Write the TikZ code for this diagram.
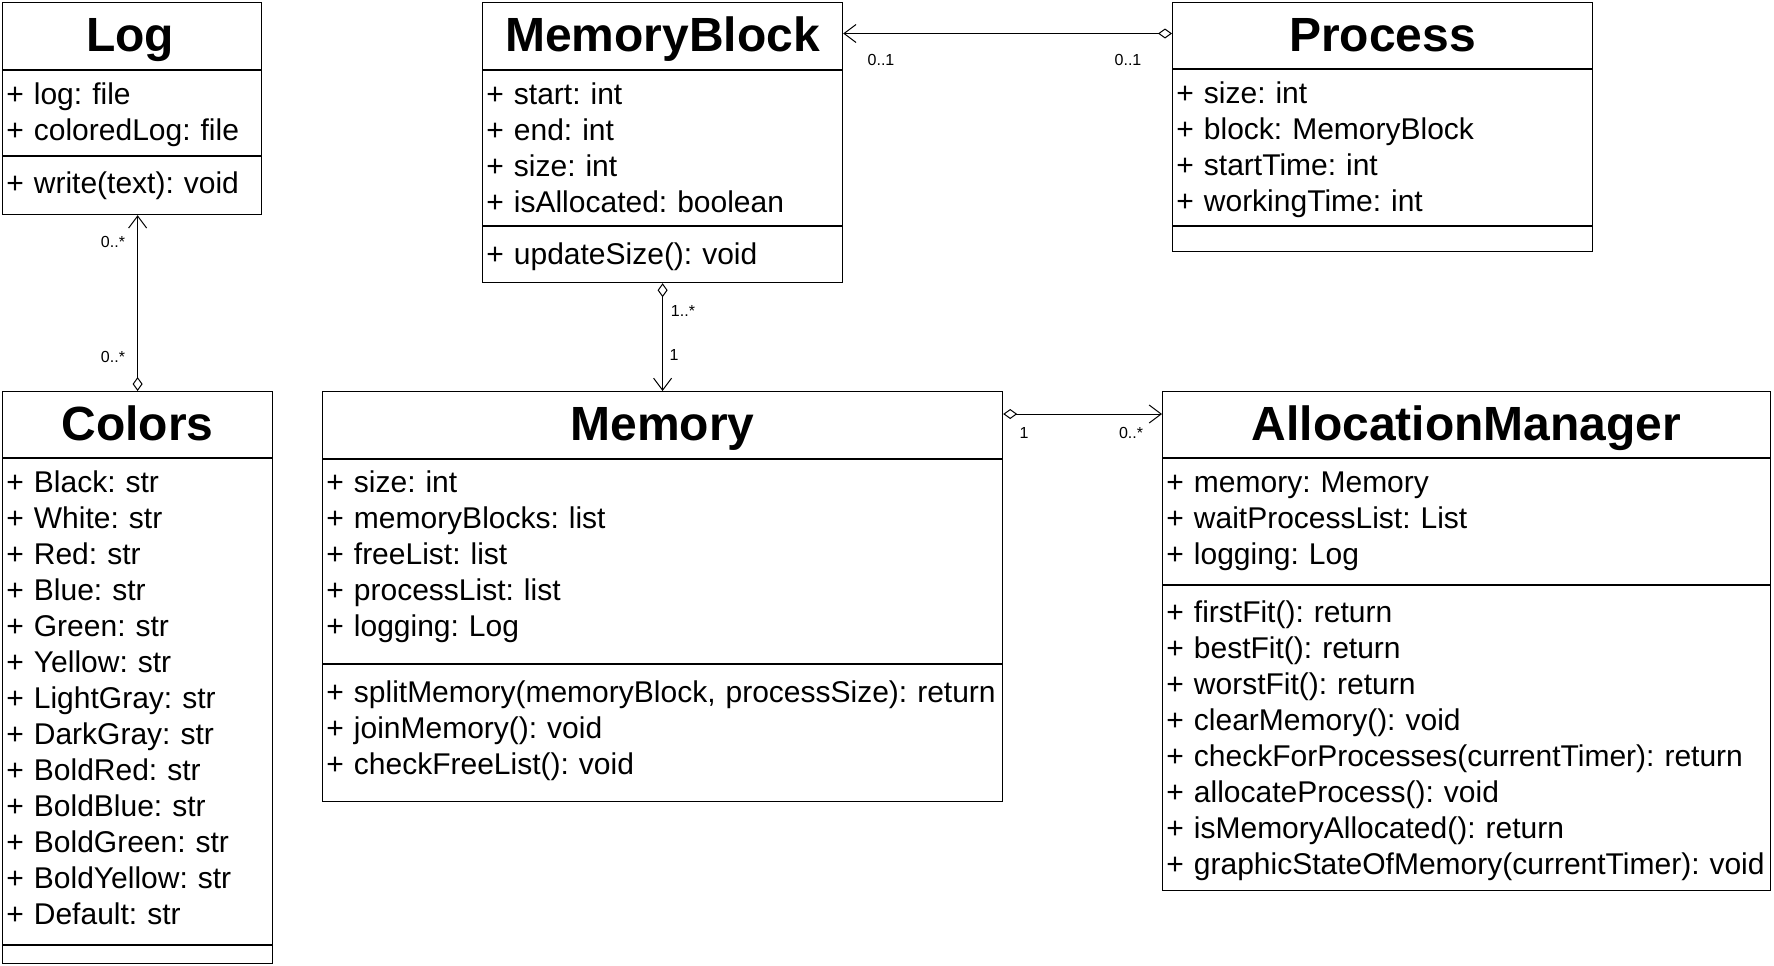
\documentclass[tikz,border=0pt]{standalone}
\usepackage{fontspec}
\setmainfont{Liberation Sans}
\frenchspacing
\usetikzlibrary{arrows.meta,calc,positioning}

\begin{document}
\begin{tikzpicture}[
    x=0.5pt, y=-0.5pt,
    cls/.style={rectangle, draw=black, line width=0.6pt, inner sep=0pt, anchor=north west},
    ctitle/.style={anchor=base, inner sep=0pt, font=\fontsize{24}{28}\selectfont\bfseries},
    members/.style={anchor=base west, inner sep=0pt, text width=400pt, align=left, font=\fontsize{15}{18}\selectfont},
    mult/.style={inner sep=0pt, font=\fontsize{8}{10}\selectfont},
    sep/.style={line width=0.6pt},
    link/.style={line width=0.5pt, {Diamond[open,length=7pt,width=5pt]}-{Straight Barb[length=6pt,width=9pt]}}
]
\useasboundingbox (0,0) rectangle (1774,965);

% Class boxes
\node[cls, minimum width=129.5pt, minimum height=106pt] (log) at (2,2) {};
\node[cls, minimum width=180pt, minimum height=140pt] (memblock) at (482,2) {};
\node[cls, minimum width=210pt, minimum height=124.5pt] (process) at (1172,2) {};
\node[cls, minimum width=135pt, minimum height=286pt] (colors) at (2,391) {};
\node[cls, minimum width=340pt, minimum height=205pt] (memory) at (322,391) {};
\node[cls, minimum width=304pt, minimum height=249.5pt] (am) at (1162,391) {};

% Compartment lines
\draw[sep] ([shift={(0,68)}]log.north west) -- ([shift={(0,68)}]log.north east);
\draw[sep] ([shift={(0,154)}]log.north west) -- ([shift={(0,154)}]log.north east);
\draw[sep] ([shift={(0,68)}]memblock.north west) -- ([shift={(0,68)}]memblock.north east);
\draw[sep] ([shift={(0,224)}]memblock.north west) -- ([shift={(0,224)}]memblock.north east);
\draw[sep] ([shift={(0,67)}]process.north west) -- ([shift={(0,67)}]process.north east);
\draw[sep] ([shift={(0,224)}]process.north west) -- ([shift={(0,224)}]process.north east);
\draw[sep] ([shift={(0,67)}]colors.north west) -- ([shift={(0,67)}]colors.north east);
\draw[sep] ([shift={(0,554)}]colors.north west) -- ([shift={(0,554)}]colors.north east);
\draw[sep] ([shift={(0,68)}]memory.north west) -- ([shift={(0,68)}]memory.north east);
\draw[sep] ([shift={(0,273)}]memory.north west) -- ([shift={(0,273)}]memory.north east);
\draw[sep] ([shift={(0,67)}]am.north west) -- ([shift={(0,67)}]am.north east);
\draw[sep] ([shift={(0,194)}]am.north west) -- ([shift={(0,194)}]am.north east);

% Titles
\node[ctitle] (logT) at ([shift={(-2,49)}]log.north) {Log};
\node[ctitle] (memblockT) at ([shift={(0,49)}]memblock.north) {MemoryBlock};
\node[ctitle] (processT) at ([shift={(0,49)}]process.north) {Process};
\node[ctitle] (colorsT) at ([shift={(0,49)}]colors.north) {Colors};
\node[ctitle] (memoryT) at ([shift={(0,49)}]memory.north) {Memory};
\node[ctitle] (amT) at ([shift={(0,49)}]am.north) {AllocationManager};

% Attributes
\node[members] (logA) at ([shift={(4,102)}]log.north west) {+ log: file\\+ coloredLog: file};
\node[members] (memblockA) at ([shift={(4,102)}]memblock.north west) {+ start: int\\+ end: int\\+ size: int\\+ isAllocated: boolean};
\node[members] (processA) at ([shift={(4,101)}]process.north west) {+ size: int\\+ block: MemoryBlock\\+ startTime: int\\+ workingTime: int};
\node[members] (colorsA) at ([shift={(4,101)}]colors.north west) {+ Black: str\\+ White: str\\+ Red: str\\+ Blue: str\\+ Green: str\\+ Yellow: str\\+ LightGray: str\\+ DarkGray: str\\+ BoldRed: str\\+ BoldBlue: str\\+ BoldGreen: str\\+ BoldYellow: str\\+ Default: str};
\node[members] (memoryA) at ([shift={(4,101)}]memory.north west) {+ size: int\\+ memoryBlocks: list\\+ freeList: list\\+ processList: list\\+ logging: Log};
\node[members] (amA) at ([shift={(4,101)}]am.north west) {+ memory: Memory\\+ waitProcessList: List\\+ logging: Log};

% Methods
\node[members] (logM) at ([shift={(4,191)}]log.north west) {+ write(text): void};
\node[members] (memblockM) at ([shift={(4,262)}]memblock.north west) {+ updateSize(): void};
\node[members] (memoryM) at ([shift={(4,311)}]memory.north west) {+ splitMemory(memoryBlock, processSize): return\\+ joinMemory(): void\\+ checkFreeList(): void};
\node[members] (amM) at ([shift={(4,231)}]am.north west) {+ firstFit(): return\\+ bestFit(): return\\+ worstFit(): return\\+ clearMemory(): void\\+ checkForProcesses(currentTimer): return\\+ allocateProcess(): void\\+ isMemoryAllocated(): return\\+ graphicStateOfMemory(currentTimer): void};

% Associations
\draw[link] (colors.north) -- (colors.north |- log.south);
\draw[link] ([yshift=-15.75pt]process.north west) -- ([yshift=-15.75pt]memblock.north east);
\draw[link] (memblock.south) -- (memory.north);
\draw[link] ([yshift=-11.5pt]memory.north east) -- ([yshift=-11.5pt]am.north west);

% Multiplicities
\node[mult] (logMult) at (113,242) {0..*};
\node[mult] (colorsMult) at (113,357) {0..*};
\node[mult] (memblockMult) at (881,60) {0..1};
\node[mult] (processMult) at (1128,60) {0..1};
\node[mult] (blocksMult) at (683,311) {1..*};
\node[mult] (memoryMult) at (674,355) {1};
\node[mult] (memoryMultB) at (1024,433) {1};
\node[mult] (amMult) at (1131,433) {0..*};
\end{tikzpicture}
\end{document}
